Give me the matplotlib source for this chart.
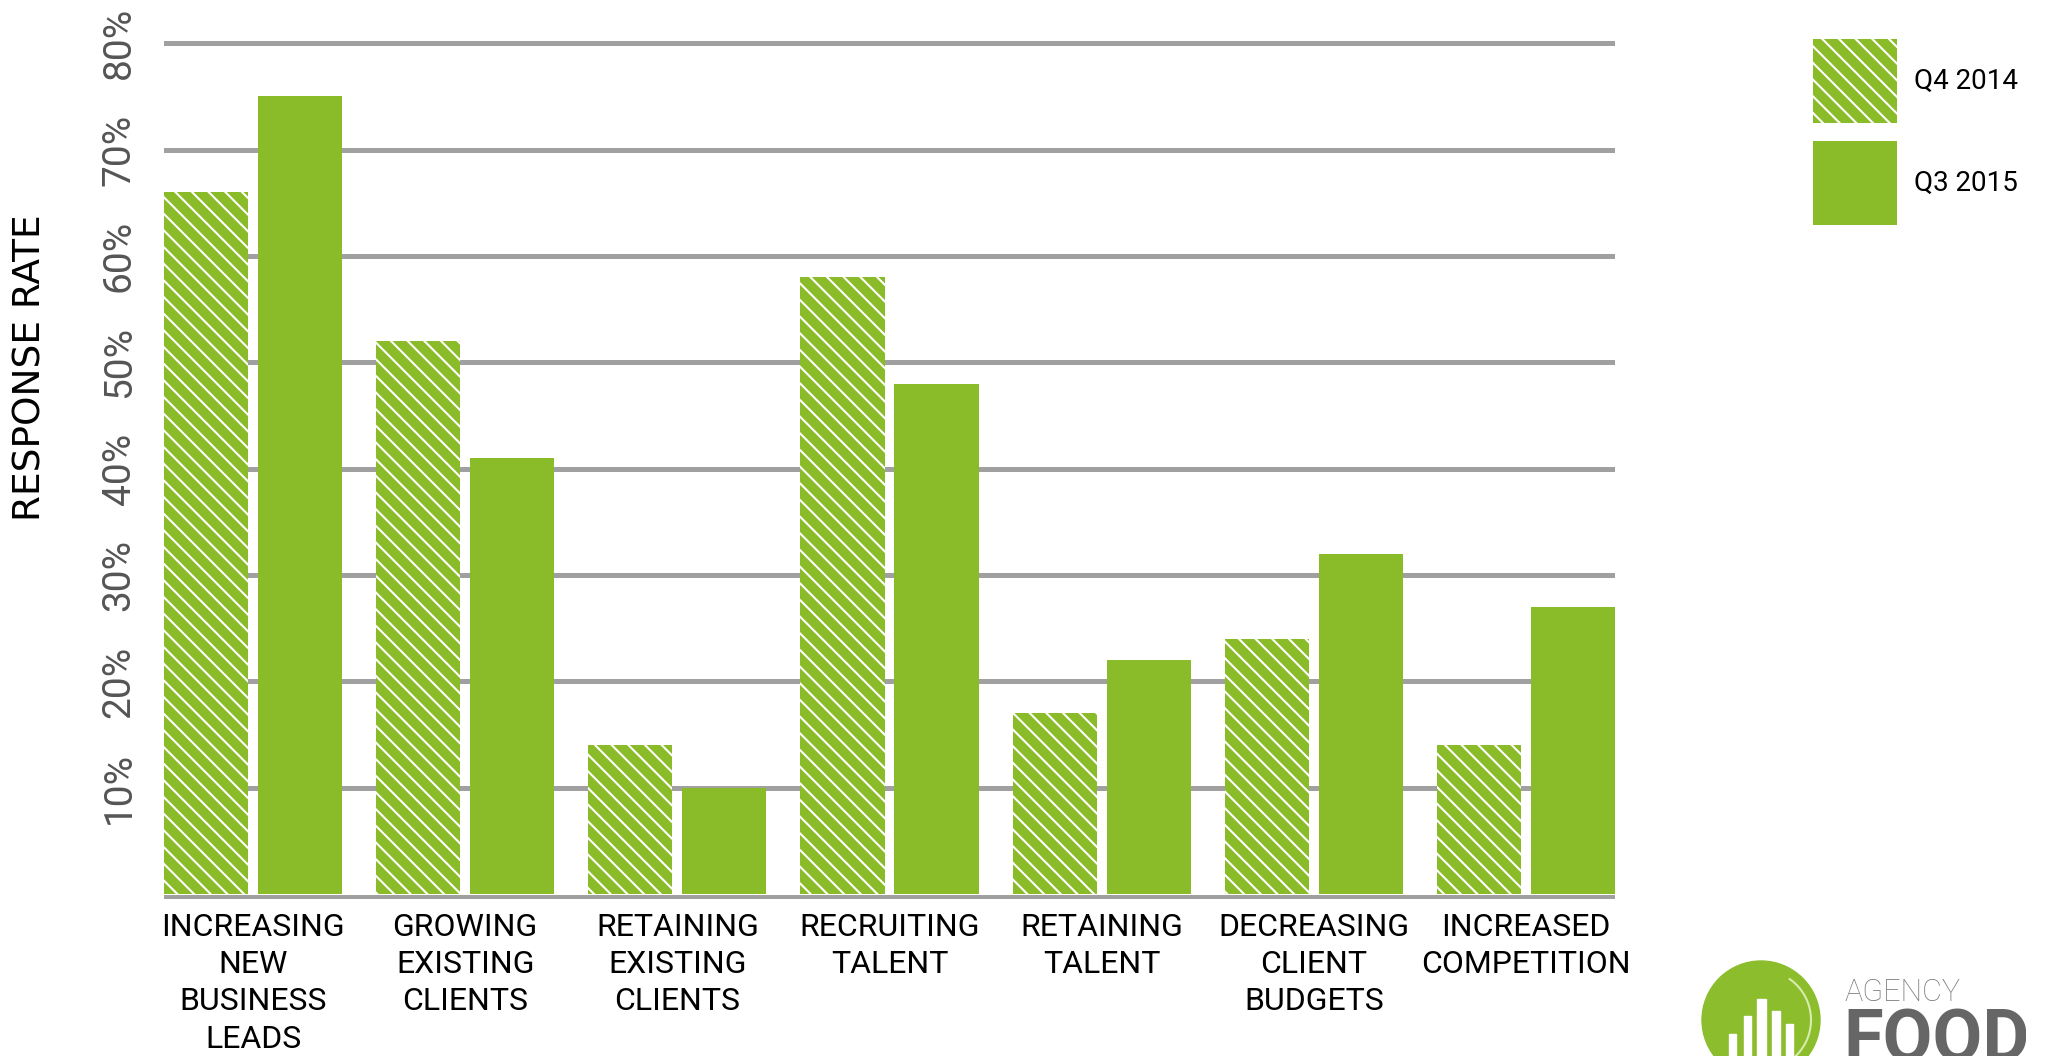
import matplotlib
matplotlib.use("Agg")
from matplotlib import pyplot as plt
from matplotlib.patches import Circle, Rectangle
import numpy as np

categories = [
    "INCREASING\nNEW\nBUSINESS\nLEADS",
    "GROWING\nEXISTING\nCLIENTS",
    "RETAINING\nEXISTING\nCLIENTS",
    "RECRUITING\nTALENT",
    "RETAINING\nTALENT",
    "DECREASING\nCLIENT\nBUDGETS",
    "INCREASED\nCOMPETITION",
]
q4_2014 = [66, 52, 14, 58, 17, 24, 14]
q3_2015 = [75, 41, 10, 48, 22, 32, 27]
series_names = ["Q4 2014", "Q3 2015"]
y_ticks = [10, 20, 30, 40, 50, 60, 70, 80]
y_ticklabels = ["10%", "20%", "30%", "40%", "50%", "60%", "70%", "80%"]

GREEN = "#8abb28"
GRID = "#a0a0a0"
HATCH = "\\\\"

plt.rcParams["font.family"] = ["Roboto", "DejaVu Sans"]
plt.rcParams["hatch.linewidth"] = 1.5

W, H = 2051, 1056
fig = plt.figure(figsize=(W / 100, H / 100), dpi=100)


def px_axes(x0, y0, x1, y1):
    # axes whose data units are figure pixels, y counted from the top
    a = fig.add_axes([x0 / W, 1 - y1 / H, (x1 - x0) / W, (y1 - y0) / H])
    a.set_xlim(x0, x1)
    a.set_ylim(y1, y0)
    a.axis("off")
    return a


# main chart
ax = fig.add_axes([164 / W, 1 - 899 / H, (1615 - 164) / W, (899 - 22) / H])

x = np.arange(len(categories))
bw = 0.396
off = (bw + 0.047) / 2

for v in y_ticks:
    ax.axhline(v, color=GRID, lw=3.6, zorder=0)
ax.axhline(-0.225, color=GRID, lw=3.6, zorder=0)

ax.bar(x - off, q4_2014, bw, color=GREEN, edgecolor="white", linewidth=0,
       hatch=HATCH, zorder=2)
ax.bar(x + off, q3_2015, bw, color=GREEN, linewidth=0, zorder=2)

ax.set_xlim(-off - bw / 2, len(categories) - 1 + off + bw / 2)
ax.set_ylim(-0.45, 82)

for sp in ax.spines.values():
    sp.set_visible(False)

ax.set_yticks(y_ticks)
ax.set_yticklabels(y_ticklabels, rotation=90, va="center", color="#555555",
                   fontsize=28)
ax.tick_params(axis="y", length=0, pad=19)

ax.set_xticks(x)
ax.set_xticklabels(categories, fontsize=23, linespacing=1.36, va="top")
ax.tick_params(axis="x", length=0, pad=10)

fig.text(31 / W, 1 - 368 / H, "RESPONSE RATE", rotation=90, ha="center",
         va="center", fontsize=27, family=["DejaVu Sans"], color="black")

# legend: two swatches with labels
lgd = px_axes(1780, 20, 2051, 240)
swatches = [(39, dict(hatch=HATCH, edgecolor="white", linewidth=0)),
            (141, dict(linewidth=0))]
for (top, style), name in zip(swatches, series_names):
    lgd.add_patch(Rectangle((1813, top), 84, 84, facecolor=GREEN, **style))
    lgd.text(1914, top + 42, name, fontsize=20, va="center", ha="left",
             color="black")

# logo in the lower right corner
lg = px_axes(1690, 956, 2026, 1056)
lg.add_patch(Circle((1761, 1020), 59, color="#8cbd2c", zorder=1))
t = np.linspace(np.radians(-75), np.radians(55), 60)
lg.plot(1761 + 50 * np.cos(t), 1020 - 50 * np.sin(t), color="#d8ecb0",
        lw=1.5, zorder=2)
for bx, top, bwid in [(1729, 1034, 7), (1744, 1016, 7), (1757, 999, 9),
                      (1772, 1011, 8), (1786, 1024, 7)]:
    lg.add_patch(Rectangle((bx, top), bwid, 1056 - top, color="white", zorder=3))
lg.text(1844, 1001, "AGENCY", fontsize=22, color="#7a7a7a", fontweight="light",
        va="baseline", ha="left")
lg.text(1843, 1062, "FOOD", fontsize=52, color="#666666", fontweight="bold",
        va="baseline", ha="left", clip_on=True)

fig.savefig("out.png", dpi=100, facecolor="white")
